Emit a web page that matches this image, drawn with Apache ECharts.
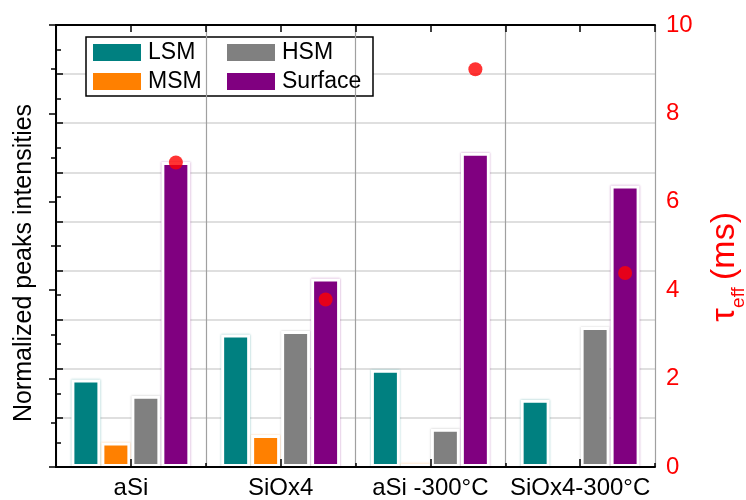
<!DOCTYPE html>
<html>
<head>
<meta charset="utf-8">
<script src="https://cdn.jsdelivr.net/npm/echarts@6/dist/echarts.min.js"></script>
<style>
  html, body { margin: 0; padding: 0; background: #fff; }
  #chart { width: 746px; height: 500px; }
</style>
</head>
<body>
<div id="chart"></div>
<script>
// Sample groups
const categories = ['aSi', 'SiOx4', 'aSi -300°C', 'SiOx4-300°C'];

// Normalized peak intensities (left axis)
const lsm = [1.78, 2.70, 1.98, 1.37];
const msm = [0.50, 0.65, 0.07, null];
const hsm = [1.45, 2.77, 0.78, 2.85];
const surface = [6.21, 3.84, 6.40, 5.73];

// Effective lifetime in ms (right axis)
const tauEff = [6.89, 3.79, 9.0, 4.39];

// Right axis tick values
const tauTicks = [0, 2, 4, 6, 8, 10];

const FONT = 'Liberation Sans, Arial, Helvetica, sans-serif';

function barSeries(name, data, color, halo) {
  return {
    name: name,
    type: 'bar',
    data: data,
    barWidth: 29,
    barGap: '3.4%',
    itemStyle: {
      color: color,
      borderColor: '#ffffff',
      borderWidth: 3,
      shadowColor: halo,
      shadowBlur: 2
    }
  };
}

// One legend entry per box cell (two columns, two rows)
function legendEntry(name, left, top) {
  return {
    data: [name],
    left: left, top: top,
    padding: 0,
    itemWidth: 48, itemHeight: 17,
    icon: 'rect',
    z: 6,
    itemStyle: { borderWidth: 0, shadowBlur: 0 },
    textStyle: { fontSize: 23, color: '#000', fontFamily: FONT, lineHeight: 23, padding: [0, 0, 0, 2] }
  };
}

const chart = echarts.init(document.getElementById('chart'), null, { renderer: 'canvas' });

chart.setOption({
  animation: false,
  backgroundColor: '#ffffff',
  textStyle: { fontFamily: FONT },
  grid: { left: 56, right: 91, top: 25, bottom: 33, containLabel: false },
  legend: [
    legendEntry('LSM', 93, 41),
    legendEntry('MSM', 93, 70),
    legendEntry('HSM', 227, 41),
    legendEntry('Surface', 227, 70)
  ],
  graphic: [
    {
      type: 'rect', z: 3,
      shape: { x: 86, y: 37, width: 287, height: 59 },
      style: { fill: '#ffffff', stroke: '#000000', lineWidth: 1.5 }
    },
    {
      type: 'text', z: 5,
      x: 24, y: 263, rotation: Math.PI / 2,
      style: {
        text: 'Normalized peaks intensities',
        font: '25px ' + FONT,
        fill: '#000000',
        align: 'center', verticalAlign: 'middle'
      }
    },
    {
      // Right axis title: tau with "eff" subscript, then the unit
      type: 'group', x: 726, y: 265, rotation: Math.PI / 2, z: 5,
      children: [
        { type: 'text', x: -50, y: -1, style: { text: 'τ', font: '34px ' + FONT, fill: '#ff0000', align: 'center', verticalAlign: 'middle' } },
        { type: 'text', x: -32.5, y: 12.5, style: { text: 'eff', font: '19px ' + FONT, fill: '#ff0000', align: 'center', verticalAlign: 'middle' } },
        { type: 'text', x: 19, y: -1, style: { text: '(ms)', font: '34px ' + FONT, fill: '#ff0000', align: 'center', verticalAlign: 'middle' } }
      ]
    }
  ],
  xAxis: [
    {
      type: 'category',
      data: categories,
      position: 'bottom',
      z: 5,
      axisLine: { show: true, lineStyle: { color: '#000', width: 2 } },
      axisTick: { show: true, inside: true, alignWithLabel: true, interval: 0, length: 8, lineStyle: { color: '#000', width: 1.5 } },
      axisLabel: { show: true, interval: 0, color: '#000', fontSize: 24, fontFamily: FONT, margin: 9 },
      splitLine: { show: true, interval: 0, lineStyle: { color: '#a0a0a0', width: 1.2 } }
    },
    {
      type: 'value', min: 0, max: 4, interval: 1,
      position: 'bottom',
      z: 5,
      axisLine: { show: false },
      axisTick: { show: true, inside: true, length: 4, lineStyle: { color: '#000', width: 1.5 } },
      axisLabel: { show: false },
      splitLine: { show: false }
    },
    {
      type: 'value', min: 0, max: 4, interval: 0.5,
      position: 'top',
      z: 5,
      axisLine: { show: true, lineStyle: { color: '#000', width: 2 } },
      axisTick: { show: true, inside: true, length: 7, lineStyle: { color: '#000', width: 1.5 } },
      axisLabel: { show: false },
      splitLine: { show: false }
    }
  ],
  yAxis: [
    {
      type: 'value', min: 0, max: 9, interval: 1,
      position: 'left',
      axisLine: { show: true, lineStyle: { color: '#000', width: 2 } },
      axisTick: { show: true, inside: true, length: 7, lineStyle: { color: '#000', width: 1.5 } },
      minorTick: { show: true, splitNumber: 2, length: 5, lineStyle: { color: '#000', width: 1.5 } },
      axisLabel: { show: false },
      splitLine: { show: true, lineStyle: { color: '#d4d4d4', width: 1.5 } }
    },
    {
      type: 'value', min: tauTicks[0], max: tauTicks[tauTicks.length - 1], interval: 2,
      position: 'right',
      z: 5,
      axisLine: { show: true, lineStyle: { color: '#000', width: 2 } },
      axisTick: { show: true, inside: true, length: 7, lineStyle: { color: '#000', width: 1.5 } },
      minorTick: { show: true, splitNumber: 2, length: 5, lineStyle: { color: '#000', width: 1.5 } },
      axisLabel: { show: true, color: '#ff0000', fontSize: 24, fontFamily: FONT, margin: 11 },
      splitLine: { show: false }
    }
  ],
  series: [
    barSeries('LSM', lsm, '#008080', 'rgba(0,128,128,0.45)'),
    barSeries('MSM', msm, '#ff8000', 'rgba(255,128,0,0.45)'),
    barSeries('HSM', hsm, '#808080', 'rgba(128,128,128,0.45)'),
    barSeries('Surface', surface, '#800080', 'rgba(128,0,128,0.45)'),
    {
      name: 'τeff',
      type: 'scatter',
      yAxisIndex: 1,
      data: tauEff,
      symbol: 'circle',
      symbolSize: 14,
      symbolOffset: [45, 0],
      z: 6,
      itemStyle: { color: '#ff0000' }
    }
  ]
});
</script>
</body>
</html>
